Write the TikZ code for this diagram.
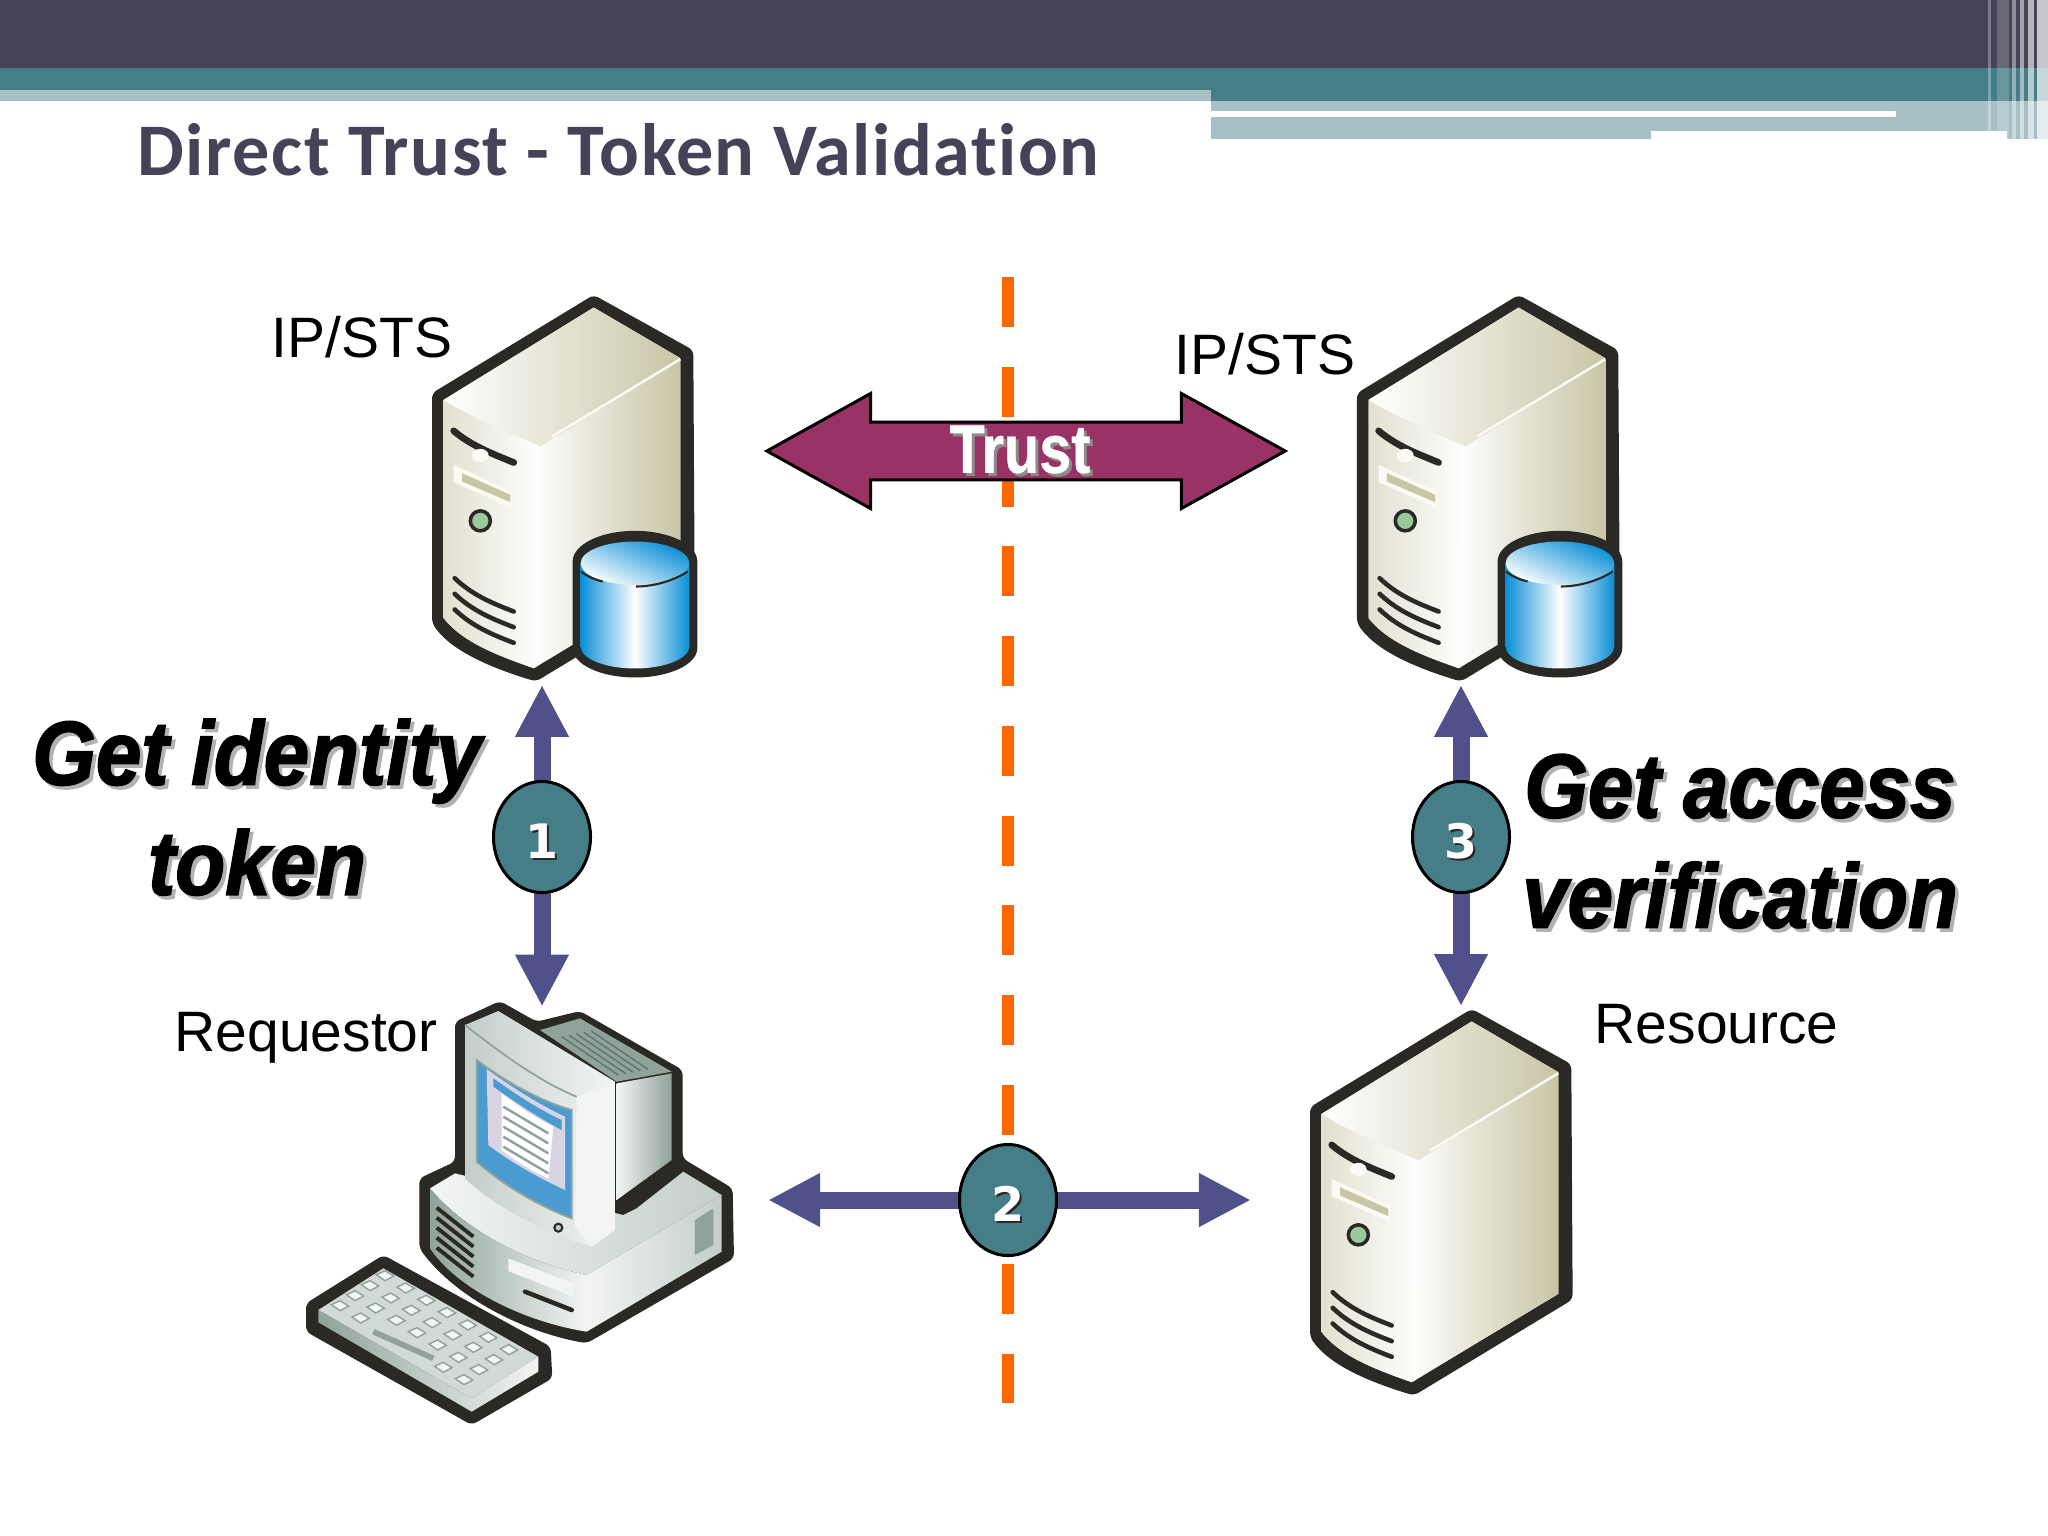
\documentclass[tikz,border=0pt]{standalone}
\usepackage{fontspec}
\usepackage{tikz}
\usetikzlibrary{arrows.meta, positioning, shapes.arrows, shapes.geometric, backgrounds, calc}

\setmainfont{Liberation Sans}
\newfontfamily\titlefont[Ligatures=NoCommon, LetterSpace=2.1]{Carlito Bold}
\newfontfamily\heavyfont[FakeBold=1.8, FakeStretch=0.9]{Liberation Sans Bold Italic}
\newfontfamily\trustfont[FakeStretch=0.84, FakeBold=0.5]{Liberation Sans Bold}
\newfontfamily\digitfont{DejaVu Sans Bold}

\definecolor{bannerdark}{HTML}{464359}
\definecolor{bannerteal}{HTML}{457E87}
\definecolor{bannerlight}{HTML}{A6C0C6}
\definecolor{flowblue}{HTML}{50518A}
\definecolor{trustred}{HTML}{993366}
\definecolor{borderorange}{HTML}{FF6600}
\definecolor{iconink}{HTML}{2A2926}
\definecolor{beigedark}{HTML}{C9C6A6}
\definecolor{beigemid}{HTML}{E2E0CF}
\definecolor{beigelight}{HTML}{FBFAF4}
\definecolor{dbblue}{HTML}{0A8FD6}
\definecolor{pcdark}{HTML}{8FA39A}
\definecolor{pcmid}{HTML}{C3CEC9}
\definecolor{pclight}{HTML}{F3F5F3}
\definecolor{screenblue}{HTML}{4C9BD0}
\definecolor{screenlilac}{HTML}{D8D4E4}

% keeps the soft shadow behind a text
\newcommand{\softshade}[3][0.03cm]{\rlap{\hspace{#1}\raisebox{-#1}{\textcolor{#2}{#3}}}#3}
\newcommand{\stepnum}[1]{\hspace*{0.01cm}\softshade[0.02cm]{iconink}{#1}}

\tikzset{
  % tower case, drawn around its centre
  pics/servertower/.style={code={
    \begin{scope}[scale=0.3333, shift={(-462,-631)}]
      \fill[iconink, rounded corners=1.5pt] (545,50) -- (844,216) -- (848,922) -- (372,1210)
        .. controls (240,1170) and (120,1120) .. (60,1035) -- (60,345) -- cycle;
      \fill[beigemid] (545,88) -- (805,240) -- (805,905) -- (365,1170) .. controls (250,1130) and (150,1090) .. (95,1020) -- (95,365) -- cycle;
      \shade[left color=white, right color=beigedark, middle color=beigemid] (370,500) -- (805,245) -- (805,905) -- (365,1170) -- cycle;
      \shade[left color=beigemid, right color=white] (95,365)
        .. controls (180,420) and (290,460) .. (385,505) -- (375,1165) -- (365,1170)
        .. controls (250,1130) and (150,1090) .. (95,1020) -- cycle;
      \shade[left color=white, right color=beigedark] (545,88) -- (805,240) -- (385,505)
        .. controls (290,460) and (180,420) .. (95,365) -- cycle;
      \draw[beigelight, line width=0.7pt] (805,243) -- (420,475);
      \draw[iconink, line width=1.9pt, line cap=round] (125,458) .. controls (180,505) and (250,530) .. (305,553);
      \fill[beigelight] (205,532) ellipse[x radius=25, y radius=20];
      \fill[beigelight] (125,560) -- (300,640) -- (300,690) -- (125,612) -- cycle;
      \fill[beigedark] (150,585) -- (295,650) -- (295,672) -- (150,610) -- cycle;
      \filldraw[draw=iconink, fill=green!30!gray!60, line width=1pt] (205,728) circle[radius=30];
      \foreach \ventoff in {0,47,94}
        \draw[iconink, line width=1.3pt, line cap=round] (128,900+\ventoff) .. controls (180,950+\ventoff) and (240,975+\ventoff) .. (305,1000+\ventoff);
    \end{scope}
  }},
  % small database drum, same frame as the tower
  pics/dbdrum/.style={code={
    \begin{scope}[scale=0.3333, shift={(-462,-631)}]
      \fill[iconink] (482,850) arc[x radius=187, y radius=92, start angle=180, end angle=360]
        -- (856,1110) arc[x radius=187, y radius=88, start angle=0, end angle=180] -- cycle;
      \shade[left color=dbblue, right color=dbblue, middle color=white] (506,855)
        -- (832,855) -- (832,1105) arc[x radius=163, y radius=66, start angle=0, end angle=180] -- cycle;
      \shade[top color=dbblue, bottom color=white, shading angle=-25] (669,855) ellipse[x radius=163, y radius=65];
      \draw[iconink, line width=0.6pt] (507,880) .. controls (525,895) and (550,905) .. (572,910);
      \draw[iconink, line width=0.6pt] (672,925) .. controls (730,925) and (790,905) .. (827,880);
    \end{scope}
  }},
  % desktop with keyboard
  pics/desktoppc/.style={code={
    \begin{scope}[scale=0.3333, shift={(-690,-706)}]
      \fill[iconink, rounded corners=1.5pt] (495,120) -- (630,58) -- (740,120) -- (870,88) -- (1178,265)
        -- (1178,530) -- (1328,620) -- (1332,830) -- (890,1085)
        .. controls (700,1050) and (500,950) .. (388,800) -- (388,590) -- (495,540) -- cycle;
      % base
      \shade[left color=pclight, right color=pcmid] (420,620) -- (495,575) -- (1000,700) -- (1040,680) -- (1180,570) -- (1295,640) -- (890,880) .. controls (700,840) and (520,740) .. cycle;
      \shade[left color=pcdark, right color=pclight] (420,620) .. controls (520,740) and (700,840) .. (890,880)
        -- (890,1050) .. controls (700,1020) and (500,920) .. (420,800) -- cycle;
      \shade[left color=pclight, right color=pcmid] (890,880) -- (1295,640) -- (1295,810) -- (890,1050) -- cycle;
      \fill[pcdark] (1215,715) -- (1270,680) -- (1270,790) -- (1215,820) -- cycle;
      \foreach \ventoff in {0,30,60,90,120}
        \draw[iconink, line width=1.1pt] (440,678+\ventoff) -- (550,765+\ventoff);
      \fill[pclight] (655,830) -- (850,905) -- (850,945) -- (655,868) -- cycle;
      \draw[iconink, line width=1.3pt, line cap=round] (705,930) -- (845,985);
      % monitor back
      \fill[pcdark] (750,145) -- (870,110) -- (1145,270) -- (980,300) -- cycle;
      \foreach \ventoff in {0,22,44,66,88}
        \draw[pcdark!70!black, line width=0.4pt] (815+\ventoff,165-\ventoff*0.2) -- (985+\ventoff,280-\ventoff*0.2);
      \shade[left color=pclight, right color=pcdark] (980,305) -- (1145,275) -- (1145,535) -- (980,655) -- cycle;
      % monitor front
      \shade[left color=pcmid, right color=pclight] (525,130) -- (625,88) -- (975,300) -- (975,745) -- (905,795)
        .. controls (780,760) and (620,680) .. (525,590) -- cycle;
      \fill[pclight] (860,345) -- (975,300) -- (975,745) -- (905,795) -- (855,735) -- cycle;
      \draw[pcdark, line width=0.5pt] (525,130) .. controls (640,220) and (750,300) .. (860,345);
      \filldraw[draw=pcdark, fill=screenblue, line width=0.5pt] (560,235) .. controls (660,310) and (760,360) .. (845,385)
        -- (845,710) .. controls (740,670) and (640,610) .. (560,540) -- cycle;
      \fill[screenlilac] (590,262) .. controls (670,320) and (750,370) .. (825,405) -- (825,625) .. controls (740,585) and (660,540) .. (595,490) -- cycle;
      \fill[screenblue] (610,290) .. controls (680,340) and (750,385) .. (815,415) -- (815,445) .. controls (750,410) and (680,365) .. (610,315) -- cycle;
      \fill[white] (635,335) .. controls (680,370) and (730,405) .. (790,435) -- (775,590) .. controls (720,565) and (680,540) .. (635,505) -- cycle;
      \foreach \lineoff in {0,30,60,90,120}
        \draw[pcdark, line width=0.7pt] (640,375+\lineoff) -- (775,455+\lineoff);
      \filldraw[draw=iconink, fill=pcmid, line width=0.6pt] (805,738) circle[radius=12];
      % keyboard
      \fill[iconink, rounded corners=1.5pt] (48,965) -- (280,820) -- (782,1095) -- (787,1190) -- (545,1330) -- (48,1050) -- cycle;
      \fill[pcmid!70!pclight] (85,985) -- (280,860) -- (745,1125) -- (545,1250) -- cycle;
      \shade[left color=pcdark, right color=pclight] (85,985) -- (545,1250) -- (745,1125) -- (745,1170) -- (545,1290) -- (85,1022) -- cycle;
      \foreach \keyrow in {0,1,2}
        \foreach \keycol in {0,...,6}
          \fill[pclight, draw=pcdark, line width=0.4pt] ({285+62*\keycol-45*\keyrow-26},{885+37*\keycol+30*\keyrow-6})
            -- ++(26,-12) -- ++(26,16) -- ++(-26,14) -- cycle;
      \foreach \keycol in {0,1,5,6}
        \fill[pclight, draw=pcdark, line width=0.4pt] ({285+62*\keycol-135-26},{885+37*\keycol+90-6})
          -- ++(26,-12) -- ++(26,16) -- ++(-26,14) -- cycle;
      \draw[pcdark, line width=1.6pt] (250,1050) -- (430,1130);
    \end{scope}
  }}
}

\begin{document}
\begin{tikzpicture}[
    x=0.01cm, y=-0.01cm,
    iconbox/.style={minimum width=2.6cm, minimum height=3.91cm, inner sep=0pt},
    lbl/.style={anchor=base west, inner sep=0pt, font=\fontsize{16.2}{19}\selectfont},
    bigtext/.style={align=center, inner sep=0pt, font=\heavyfont\fontsize{25.8}{31.3}\selectfont},
    stepdot/.style={ellipse, draw=black, fill=bannerteal, line width=0.03cm, minimum width=0.97cm, minimum height=1.11cm, inner sep=0pt,
      text height=0.426cm, text depth=0cm, text=white, font=\digitfont\fontsize{13.5}{15}\selectfont},
    flowarrow/.style={{Triangle[width=0.5cm,length=0.52cm]}-{Triangle[width=0.5cm,length=0.52cm]}, line width=0.17cm, draw=flowblue},
    trustarrow/.style={double arrow, double arrow head extend=0.265cm, double arrow head indent=0pt, double arrow tip angle=58,
      draw=black, fill=trustred, line width=0.03cm, minimum height=5.18cm, minimum width=1.15cm, inner sep=0pt, text=white,
      font=\trustfont\fontsize{19.5}{22}\selectfont}
  ]

  \useasboundingbox (0,0) rectangle (2048,1536);

  % Banner
  \fill[bannerdark] (0,0) rectangle (2048,68);
  \fill[bannerteal] (0,68) rectangle (2048,90);
  \fill[bannerlight] (0,90) rectangle (1211,101);
  \fill[bannerteal] (1211,90) rectangle (2048,101);
  \fill[bannerlight] (1211,101) rectangle (2048,131);
  \fill[bannerlight] (1211,131) rectangle (1651,139);
  \fill[bannerlight] (2007,131) rectangle (2048,139);
  \fill[white] (1211,111) rectangle (1896,117);
  \foreach \stripex/\stripew/\stripeop in {1988/3/0.3, 1997/12/0.2, 2012/4/0.4, 2020/4/0.5, 2028/6/0.6, 2037/11/0.7}
    \fill[white, opacity=\stripeop] (\stripex,0) rectangle ++(\stripew,139);

  % Title
  \node[anchor=base west, inner sep=0pt, text=bannerdark, font=\titlefont\fontsize{21.1}{24}\selectfont] (title) at (137,175) {Direct Trust - Token Validation};

  % Machines
  \node[iconbox] (ipa) at (566,488.5) {};
  \node[iconbox, right=6.63cm of ipa] (ipb) {};
  \node[iconbox] (res) at (1444,1202.5) {};
  \node[iconbox, minimum width=4.3cm, minimum height=4.19cm] (req) at (520,1217) {};
  \pic at (ipa) {servertower};
  \pic at (ipa) {dbdrum};
  \pic at (ipb) {servertower};
  \pic at (ipb) {dbdrum};
  \pic at (res) {servertower};
  \pic at (req) {desktoppc};

  % Trust border
  \coordinate (bordertop) at (1008,277);
  \coordinate (borderbot) at (1008,1403);
  \draw[borderorange, line width=0.12cm, dash pattern=on 0.5cm off 0.397cm] (bordertop) -- (borderbot);

  % Trust arrow
  \node[trustarrow] (trust) at (1026,451) {\hspace*{-0.12cm}\softshade{black!45}{Trust}};

  % Step markers
  \node[stepdot] (stepa) at (542,837) {\stepnum{1}};
  \node[stepdot] (stepb) at (1008,1200) {\stepnum{2}};
  \node[stepdot] (stepc) at (1461,837) {\stepnum{3}};

  % Arrows
  \coordinate (reqside) at (768,1200);
  \coordinate (resside) at (1251,1200);
  \begin{scope}[on background layer]
    \draw[flowarrow] (ipa.south -| stepa) -- (req.north -| stepa);
    \draw[flowarrow] (ipb.south -| stepc) -- (res.north -| stepc);
    \draw[flowarrow] (reqside) -- (resside);
  \end{scope}

  % Labels
  \node[lbl] (ipalabel) at (271,357.5) {IP/STS};
  \node[lbl] (ipblabel) at (1174,374.5) {IP/STS};
  \node[lbl] (reqlabel) at (174,1051) {Requestor};
  \node[lbl] (reslabel) at (1594,1043.5) {Resource};
  \node[bigtext] (getid) at (257,809) {\softshade[0.035cm]{black!30}{Get identity}\\\softshade[0.035cm]{black!30}{token}};
  \node[bigtext] (getac) at (1740,843) {\softshade[0.035cm]{black!30}{Get access}\\\softshade[0.035cm]{black!30}{verification}};

\end{tikzpicture}
\end{document}
